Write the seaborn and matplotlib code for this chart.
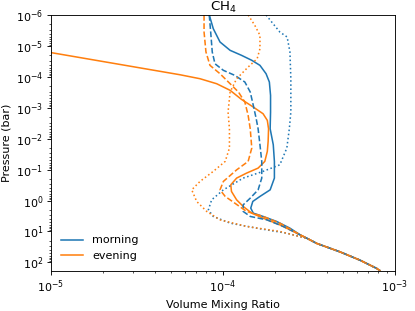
import numpy as np
import pandas as pd
import matplotlib
matplotlib.use("Agg")
import matplotlib.pyplot as plt
import seaborn as sns

title = "CH$_4$"

# shared deep-atmosphere tail (bar, vmr)
p_tail = [17.0, 24.4, 45.7, 84.9, 157.0, 185.0]
x_tail = [3.10e-4, 3.51e-4, 4.79e-4, 6.26e-4, 7.83e-4, 8.18e-4]

# morning, solid
p_m_solid = [1e-6, 2.77e-6, 7.48e-6, 1.39e-5, 2.01e-5, 2.92e-5, 4.25e-5, 7.94e-5, 1.47e-4,
             3.97e-4, 1.38e-3, 4.79e-3, 1.57e-2, 5.43e-2, 0.188, 0.451, 0.737, 1.07, 1.76,
             2.56, 3.27, 4.75, 7.82, 12.9]
x_m_solid = [8.32e-5, 8.78e-5, 9.61e-5, 1.10e-4, 1.28e-4, 1.47e-4, 1.64e-4, 1.78e-4, 1.86e-4,
             1.89e-4, 1.89e-4, 1.88e-4, 1.96e-4, 1.99e-4, 1.99e-4, 1.88e-4, 1.64e-4, 1.49e-4,
             1.45e-4, 1.50e-4, 1.71e-4, 2.05e-4, 2.45e-4, 2.81e-4]

# evening, solid
p_e_solid = [1e-6, 1.66e-5, 8.55e-5, 1.15e-4, 1.67e-4, 2.73e-4, 5.35e-4, 9.49e-4, 1.56e-3,
             2.56e-3, 4.79e-3, 1.22e-2, 2.58e-2, 5.43e-2, 8.94e-2, 0.130, 0.188, 0.310, 0.508,
             0.949, 1.55, 2.56, 3.71, 6.11, 12.9]
x_e_solid = [6.0e-7, 1.01e-5, 5.62e-5, 7.35e-5, 9.19e-5, 1.10e-4, 1.28e-4, 1.50e-4, 1.71e-4,
             1.81e-4, 1.84e-4, 1.83e-4, 1.81e-4, 1.75e-4, 1.60e-4, 1.37e-4, 1.20e-4, 1.11e-4,
             1.12e-4, 1.20e-4, 1.31e-4, 1.47e-4, 1.71e-4, 2.14e-4, 2.81e-4]

# morning, dashed
p_m_dash = [1e-6, 3.55e-6, 1.57e-5, 3.77e-5, 6.16e-5, 8.94e-5, 1.47e-4, 3.10e-4, 8.36e-4,
            2.27e-3, 4.79e-3, 1.57e-2, 5.43e-2, 0.188, 0.451, 0.836, 1.38, 2.25, 3.27, 4.22,
            6.89, 12.9]
x_m_dash = [8.32e-5, 8.48e-5, 8.66e-5, 8.98e-5, 1.005e-4, 1.17e-4, 1.34e-4, 1.44e-4, 1.50e-4,
            1.56e-4, 1.60e-4, 1.64e-4, 1.68e-4, 1.68e-4, 1.60e-4, 1.44e-4, 1.31e-4, 1.31e-4,
            1.44e-4, 1.80e-4, 2.24e-4, 2.81e-4]

# evening, dashed
p_e_dash = [1e-6, 3.55e-6, 1.57e-5, 4.25e-5, 7.94e-5, 1.67e-4, 3.10e-4, 6.54e-4, 1.76e-3,
            4.79e-3, 2.01e-2, 5.43e-2, 0.102, 0.241, 0.451, 0.737, 1.21, 2.25, 3.27, 5.38,
            12.9]
x_e_dash = [7.76e-5, 7.76e-5, 7.96e-5, 8.40e-5, 9.61e-5, 1.10e-4, 1.23e-4, 1.34e-4, 1.40e-4,
            1.44e-4, 1.47e-4, 1.40e-4, 1.20e-4, 1.005e-4, 9.61e-5, 1.03e-4, 1.17e-4, 1.37e-4,
            1.71e-4, 2.14e-4, 2.81e-4]

# morning, dotted
p_m_dot = [1e-6, 1.69e-6, 3.55e-6, 5.15e-6, 1.57e-5, 1.15e-4, 1.38e-3, 4.79e-3, 2.01e-2,
           7.00e-2, 0.114, 0.188, 0.451, 0.949, 2.00, 3.27, 5.38, 7.82, 11.4]
x_m_dot = [1.78e-4, 1.92e-4, 2.14e-4, 2.36e-4, 2.45e-4, 2.48e-4, 2.48e-4, 2.43e-4, 2.35e-4,
           2.14e-4, 1.71e-4, 1.31e-4, 1.005e-4, 8.59e-5, 8.22e-5, 8.78e-5, 1.10e-4, 1.57e-4,
           2.35e-4]

# evening, dotted
p_e_dot = [1e-6, 2.15e-6, 4.54e-6, 1.23e-5, 2.59e-5, 4.82e-5, 1.15e-4, 3.10e-4, 1.38e-3,
           4.79e-3, 2.01e-2, 5.43e-2, 0.114, 0.241, 0.451, 1.07, 2.25, 4.22, 6.89, 10.0]
x_e_dot = [1.40e-4, 1.53e-4, 1.64e-4, 1.64e-4, 1.58e-4, 1.40e-4, 1.20e-4, 1.10e-4, 1.07e-4,
           1.09e-4, 1.09e-4, 1.03e-4, 8.78e-5, 7.35e-5, 6.58e-5, 7.03e-5, 8.04e-5, 9.61e-5,
           1.37e-4, 2.14e-4]

curves = [
    (p_m_solid, x_m_solid, "C0", "-", "morning"),
    (p_e_solid, x_e_solid, "C1", "-", "evening"),
    (p_m_dash, x_m_dash, "C0", "--", None),
    (p_e_dash, x_e_dash, "C1", "--", None),
    (p_m_dot, x_m_dot, "C0", ":", None),
    (p_e_dot, x_e_dot, "C1", ":", None),
]

DPI = 80
fig = plt.figure(figsize=(415 / DPI, 311 / DPI), dpi=DPI)
ax = fig.add_axes([51 / 415, 1 - 271 / 311, (395 - 51) / 415, (271 - 15) / 311])

for p, x, c, ls, lab in curves:
    df = pd.DataFrame({"p": list(p) + p_tail, "x": list(x) + x_tail})
    sns.lineplot(data=df, x="x", y="p", sort=False, estimator=None, color=c,
                 linestyle=ls, linewidth=1.4, ax=ax, label=lab)

ax.set_xscale("log")
ax.set_yscale("log")
ax.set_xlim(1e-5, 1e-3)
ax.set_ylim(190, 1e-6)
ax.set_xlabel("Volume Mixing Ratio")
ax.set_ylabel("Pressure (bar)")
ax.set_title(title, pad=2)
ax.set_yticks([10.0 ** k for k in range(-6, 3)])
ax.legend(loc="lower left", frameon=False)

fig.savefig("out.png", dpi=DPI)
